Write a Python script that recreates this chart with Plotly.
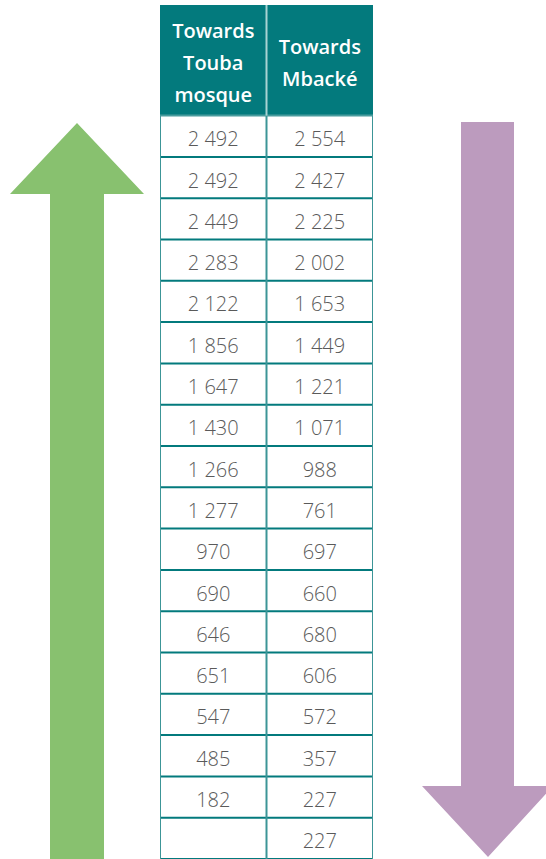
import plotly.graph_objects as go

columns = [["Towards", "Touba", "mosque"], ["Towards", "Mbacké"]]
touba = [2492, 2492, 2449, 2283, 2122, 1856, 1647, 1430, 1266, 1277, 970, 690, 646, 651, 547, 485, 182, None]
mbacke = [2554, 2427, 2225, 2002, 1653, 1449, 1221, 1071, 988, 761, 697, 660, 680, 606, 572, 357, 227, 227]

TEAL = "#037a7d"
GREEN = "#88c16f"
PURPLE = "#bc9bbe"
W, H = 546, 859

def fmt(v):
    if v is None:
        return ""
    return f"{v:,}".replace(",", " ")

n = len(mbacke)
row_px = 41.3
top_px = 5
span = (H - top_px) / row_px
ytop = n - 0.5 - span  # top of range (header top)
px = 1 / row_px  # one pixel in row units

fig = go.Figure()

# table text
for ci, vals in enumerate([touba, mbacke]):
    fig.add_trace(go.Scatter(
        x=[ci] * n, y=[r + 5 * px for r in range(n)], mode="text",
        text=[fmt(v) for v in vals],
        textfont=dict(family="Open Sans", size=20, color="#5a5a5a", weight=300),
        xaxis="x2", yaxis="y2", hoverinfo="skip", showlegend=False))

hcenter = ytop + (65 - top_px) * px
for ci, lines in enumerate(columns):
    k = len(lines)
    ys = [hcenter + (i - (k - 1) / 2) * 32 * px for i in range(k)]
    fig.add_trace(go.Scatter(
        x=[ci] * k, y=ys, mode="text", text=lines,
        textfont=dict(family="Open Sans", size=20, color="white", weight=600),
        xaxis="x2", yaxis="y2", hoverinfo="skip", showlegend=False))

shapes = []
# arrows in pixel axes
shapes.append(dict(type="path", xref="x", yref="y",
                   path="M 50 859 L 50 194 L 10 194 L 77 123 L 144 194 L 104 194 L 104 859 Z",
                   fillcolor=GREEN, line=dict(width=0), layer="below"))
shapes.append(dict(type="path", xref="x", yref="y",
                   path="M 461 122 L 514 122 L 514 786 L 553 786 L 488 857 L 422 786 L 461 786 Z",
                   fillcolor=PURPLE, line=dict(width=0), layer="below"))

# header background
shapes.append(dict(type="rect", xref="x2", yref="y2", x0=-0.5, x1=1.5, y0=ytop, y1=-0.5,
                   fillcolor=TEAL, line=dict(width=0), layer="below"))
# cell background
shapes.append(dict(type="rect", xref="x2", yref="y2", x0=-0.5, x1=1.5, y0=-0.5, y1=n - 0.5,
                   fillcolor="white", line=dict(width=0), layer="below"))
# horizontal lines
for r in range(n):
    shapes.append(dict(type="line", xref="x2", yref="y2", x0=-0.5, x1=1.5, y0=r + 0.5, y1=r + 0.5,
                       line=dict(color=TEAL, width=2)))
shapes.append(dict(type="line", xref="x2", yref="y2", x0=-0.5, x1=1.5, y0=-0.5, y1=-0.5,
                   line=dict(color="#4a9c9e", width=2)))
# vertical lines
for xv in [-0.5, 0.5, 1.5]:
    shapes.append(dict(type="line", xref="x2", yref="y2", x0=xv, x1=xv, y0=-0.5, y1=n - 0.5,
                       line=dict(color="#3c9597", width=2)))
shapes.append(dict(type="line", xref="x2", yref="y2", x0=0.5, x1=0.5, y0=ytop, y1=-0.5,
                   line=dict(color="#a8d3d3", width=2)))

fig.update_layout(
    width=W, height=H, margin=dict(l=0, r=0, t=0, b=0),
    paper_bgcolor="white", plot_bgcolor="rgba(0,0,0,0)",
    xaxis=dict(range=[0, W], visible=False, domain=[0, 1], fixedrange=True),
    yaxis=dict(range=[H, 0], visible=False, domain=[0, 1], fixedrange=True),
    xaxis2=dict(range=[-0.5, 1.5], visible=False, domain=[160 / W, 373 / W], anchor="y2", fixedrange=True),
    yaxis2=dict(range=[n - 0.5, ytop], visible=False, domain=[0, 1 - top_px / H], anchor="x2", fixedrange=True),
    shapes=shapes, showlegend=False,
)

fig.write_html("out.html", config={"displayModeBar": False},
               post_script="document.body.style.margin='0';document.body.style.overflow='hidden';")
